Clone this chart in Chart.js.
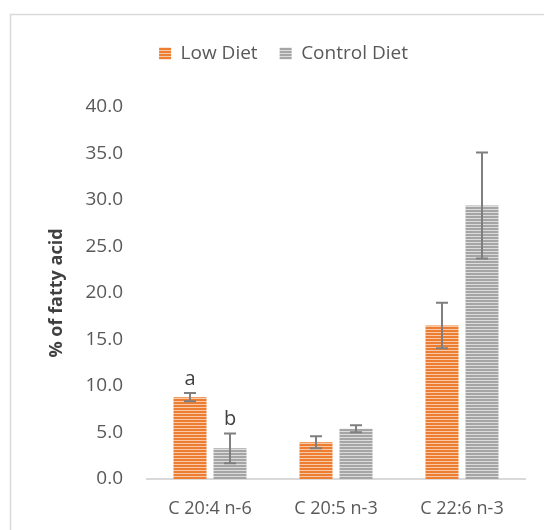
<!DOCTYPE html>
<html>
<head>
<meta charset="utf-8">
<script src="https://cdn.jsdelivr.net/npm/chart.js@4"></script>
<style>
  html, body { margin: 0; padding: 0; background: #fff; }
  #wrap { width: 544px; height: 530px; position: relative; }
</style>
</head>
<body>
<div id="wrap"><canvas id="grafico" width="544" height="530"></canvas></div>
<script>
// datos
const categories = ["C 20:4 n-6", "C 20:5 n-3", "C 22:6 n-3"];
const lowDiet = [8.8, 3.95, 16.5];
const lowErr = [0.45, 0.65, 2.45];
const controlDiet = [3.3, 5.4, 29.4];
const controlErr = [1.6, 0.38, 5.7];
const lowLetters = ["a", "", ""];
const controlLetters = ["b", "", ""];
const yMax = 40;
const yStep = 5;

// patron de rayas horizontales
function stripes(color, light) {
  const c = document.createElement("canvas");
  c.width = 4; c.height = 3;
  const g = c.getContext("2d");
  g.fillStyle = color; g.fillRect(0, 0, 4, 2);
  g.fillStyle = light; g.fillRect(0, 2, 4, 1);
  return g.createPattern(c, "repeat");
}
const ctx = document.getElementById("grafico").getContext("2d");
const orange = stripes("#ED7D31", "#F8C9A8");
const grey = stripes("#A5A5A5", "#DCDCDC");

const errors = [lowErr, controlErr];
const letters = [lowLetters, controlLetters];
const font = "'Open Sans', sans-serif";

// mas espacio bajo la leyenda
const legendGap = {
  id: "legendGap",
  beforeInit(chart) {
    const fit = chart.legend.fit;
    chart.legend.fit = function () {
      fit.call(this);
      this.height += 34;
    };
  }
};

const extras = {
  id: "extras",
  beforeDraw(chart) {
    const c = chart.ctx;
    c.save();
    c.strokeStyle = "#d9d9d9";
    c.lineWidth = 1.5;
    c.strokeRect(10.5, 14.5, 700, 700);
    c.restore();
  },
  afterDatasetsDraw(chart) {
    const c = chart.ctx;
    const y = chart.scales.y;
    c.save();
    c.strokeStyle = "#7f7f7f";
    c.lineWidth = 2;
    c.fillStyle = "#404040";
    c.font = "20px " + font;
    c.textAlign = "center";
    c.textBaseline = "bottom";
    chart.data.datasets.forEach((ds, i) => {
      chart.getDatasetMeta(i).data.forEach((bar, j) => {
        const v = ds.data[j], e = errors[i][j];
        const top = y.getPixelForValue(v + e);
        const bot = y.getPixelForValue(v - e);
        const x = bar.x;
        c.beginPath();
        c.moveTo(x, top); c.lineTo(x, bot);
        c.moveTo(x - 6, top); c.lineTo(x + 6, top);
        c.moveTo(x - 6, bot); c.lineTo(x + 6, bot);
        c.stroke();
        if (letters[i][j]) c.fillText(letters[i][j], x, top - 4);
      });
    });
    c.restore();
  }
};

new Chart(ctx, {
  type: "bar",
  data: {
    labels: categories,
    datasets: [
      { label: "Low Diet", data: lowDiet, backgroundColor: orange },
      { label: "Control Diet", data: controlDiet, backgroundColor: grey }
    ]
  },
  options: {
    responsive: false,
    animation: false,
    categoryPercentage: 0.635,
    barPercentage: 0.825,
    layout: { padding: { top: 22, right: 19, bottom: 5, left: 42 } },
    plugins: {
      tooltip: { enabled: false },
      legend: {
        position: "top",
        labels: {
          color: "#595959",
          font: { family: font, size: 19 },
          boxWidth: 12, boxHeight: 12,
          padding: 22
        }
      }
    },
    scales: {
      x: {
        grid: { display: false, drawTicks: false },
        border: { color: "#d9d9d9", width: 2 },
        ticks: { color: "#595959", font: { family: font, size: 18 }, padding: 19 },
        afterFit(s) { s.height = 46; }
      },
      y: {
        min: 0, max: yMax,
        grid: { display: false, drawTicks: false },
        border: { display: false },
        ticks: {
          stepSize: yStep,
          color: "#595959",
          font: { family: font, size: 19 },
          padding: 24,
          callback: v => v.toFixed(1)
        },
        title: {
          display: true, text: "% of fatty acid", color: "#404040",
          font: { family: font, size: 18, weight: "bold" }
        },
        afterFit(s) { s.width = 105; }
      }
    }
  },
  plugins: [legendGap, extras]
});
</script>
</body>
</html>
